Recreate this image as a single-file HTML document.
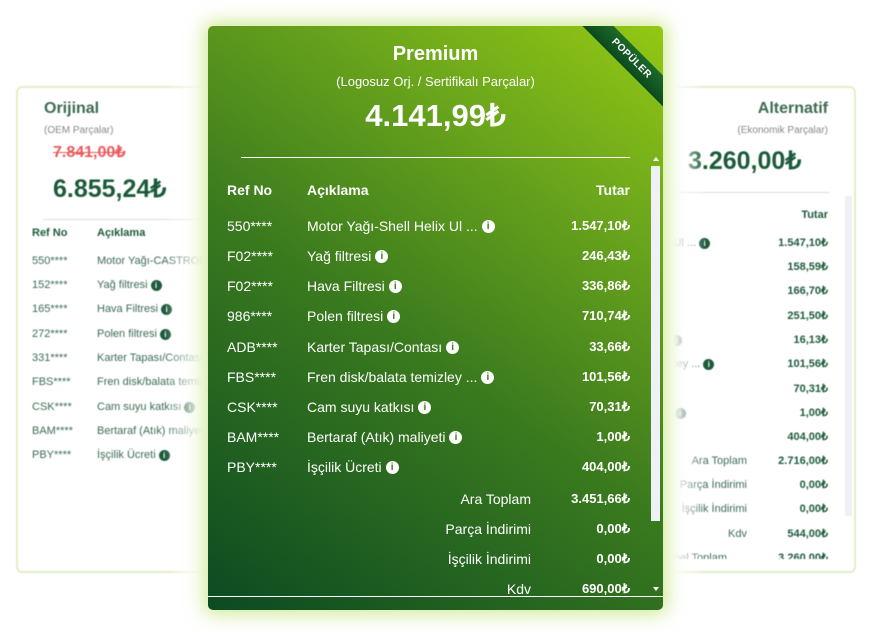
<!DOCTYPE html>
<html><head><meta charset="utf-8"><style>
*{margin:0;padding:0;box-sizing:border-box}
body{width:872px;height:632px;background:#fff;position:relative;overflow:hidden;font-family:"Liberation Sans",sans-serif}
.a{position:absolute;white-space:nowrap;line-height:20px}
.r{text-align:right}
.side{position:absolute;top:86px;width:228px;height:487px;border:2px solid #e2efc6;border-radius:6px;background:#fff;filter:blur(0.5px)}
.s{font-size:11px;color:#3d6b52}
.sb{font-size:11px;color:#1e5a3c;font-weight:bold}
.i{display:inline-block;width:11px;height:11px;border-radius:50%;background:#1e5a3c;color:#fff;font-size:8px;line-height:11px;text-align:center;font-weight:bold;vertical-align:middle;margin-left:3px}
.ci{display:inline-block;width:13px;height:13px;border-radius:50%;background:#fff;color:#3a7a1e;font-size:10px;line-height:13px;text-align:center;font-weight:bold;vertical-align:middle;margin-left:4px;position:relative;top:-1px}
.c{font-size:14px;color:#fff}
.cb{font-size:13px;color:#fff;font-weight:bold}
</style></head><body>
<div class="side" style="left:16px"></div>
<div class="side" style="left:627px;width:229px"></div>
<div style="position:absolute;left:0;top:0;width:872px;height:632px;filter:blur(0.5px)">
<div class="a" style="left:44px;top:99px;font-size:16px;font-weight:bold;color:#3d6b52">Orijinal</div>
<div class="a s" style="left:44px;top:121px;font-size:10px;color:#888">(OEM Parçalar)</div>
<div class="a" style="left:53px;top:143px;font-size:16px;font-weight:bold;color:#e85a5a;text-decoration:line-through">7.841,00₺</div>
<div class="a" style="left:53px;top:176px;font-size:25px;line-height:26px;font-weight:bold;color:#1a5a38">6.855,24₺</div>
<div style="position:absolute;left:43px;top:219px;width:180px;height:1px;background:#ddd"></div>
<div class="a sb" style="left:32px;top:223px">Ref No</div><div class="a sb" style="left:97px;top:223px">Açıklama</div>
<div class="a s" style="left:32px;top:251px">550****</div><div class="a s" style="left:97px;top:251px">Motor Yağı-CASTROL (</div>
<div class="a s" style="left:32px;top:275px">152****</div><div class="a s" style="left:97px;top:275px">Yağ filtresi<span class="i">i</span></div>
<div class="a s" style="left:32px;top:299px">165****</div><div class="a s" style="left:97px;top:299px">Hava Filtresi<span class="i">i</span></div>
<div class="a s" style="left:32px;top:324px">272****</div><div class="a s" style="left:97px;top:324px">Polen filtresi<span class="i">i</span></div>
<div class="a s" style="left:32px;top:348px">331****</div><div class="a s" style="left:97px;top:348px">Karter Tapası/Contası</div>
<div class="a s" style="left:32px;top:372px">FBS****</div><div class="a s" style="left:97px;top:372px">Fren disk/balata temiz</div>
<div class="a s" style="left:32px;top:397px">CSK****</div><div class="a s" style="left:97px;top:397px">Cam suyu katkısı<span class="i">i</span></div>
<div class="a s" style="left:32px;top:421px">BAM****</div><div class="a s" style="left:97px;top:421px">Bertaraf (Atık) maliyet</div>
<div class="a s" style="left:32px;top:445px">PBY****</div><div class="a s" style="left:97px;top:445px">İşçilik Ücreti<span class="i">i</span></div>

<div class="a r" style="right:44px;top:99px;font-size:16px;font-weight:bold;color:#3d6b52">Alternatif</div>
<div class="a r" style="right:44px;top:121px;font-size:10px;color:#888">(Ekonomik Parçalar)</div>
<div class="a" style="left:688px;top:148px;font-size:25px;line-height:26px;font-weight:bold;color:#1a5a38">3.260,00₺</div>
<div style="position:absolute;left:650px;top:192px;width:180px;height:1px;background:#ddd"></div>
<div style="position:absolute;left:845px;top:196px;width:7px;height:320px;background:#eef0f3"></div>
<div class="a sb r" style="right:44px;top:205px">Tutar</div>
<div class="a s" style="left:660px;top:233px">lix Ul ...<span class="i">i</span></div>
<div class="a s" style="left:660px;top:330px">si<span class="i">i</span></div>
<div class="a s" style="left:660px;top:354px">nizley ...<span class="i">i</span></div>
<div class="a s" style="left:660px;top:403px">eti<span class="i">i</span></div>
<div class="a sb r" style="right:44px;top:233px">1.547,10₺</div>
<div class="a sb r" style="right:44px;top:257px">158,59₺</div>
<div class="a sb r" style="right:44px;top:281px">166,70₺</div>
<div class="a sb r" style="right:44px;top:306px">251,50₺</div>
<div class="a sb r" style="right:44px;top:330px">16,13₺</div>
<div class="a sb r" style="right:44px;top:354px">101,56₺</div>
<div class="a sb r" style="right:44px;top:379px">70,31₺</div>
<div class="a sb r" style="right:44px;top:403px">1,00₺</div>
<div class="a sb r" style="right:44px;top:427px">404,00₺</div>
<div class="a s r" style="right:125px;top:451px">Ara Toplam</div><div class="a sb r" style="right:44px;top:451px">2.716,00₺</div>
<div class="a s r" style="right:125px;top:475px">Parça İndirimi</div><div class="a sb r" style="right:44px;top:475px">0,00₺</div>
<div class="a s r" style="right:125px;top:499px">İşçilik İndirimi</div><div class="a sb r" style="right:44px;top:499px">0,00₺</div>
<div class="a s r" style="right:125px;top:524px">Kdv</div><div class="a sb r" style="right:44px;top:524px">544,00₺</div>
<div style="position:absolute;left:640px;top:548px;width:200px;height:11px;overflow:hidden"><div class="a s r" style="right:113px;top:0">Genel Toplam</div><div class="a sb r" style="right:12px;top:0">3.260,00₺</div></div>
</div>
<div style="position:absolute;left:165px;top:80px;width:45px;height:500px;background:linear-gradient(90deg,rgba(255,255,255,0),#fff 85%)"></div>
<div style="position:absolute;left:660px;top:80px;width:45px;height:500px;background:linear-gradient(270deg,rgba(255,255,255,0),#fff 70%)"></div>

<div style="position:absolute;left:208px;top:26px;width:455px;height:584px;border-radius:5px;background:linear-gradient(215deg,#93c814 0%,#6aa51c 25%,#3a7a1e 55%,#0c4a22 100%);box-shadow:0 0 18px 4px rgba(170,215,60,0.55);overflow:hidden">
<div class="a" style="left:0;width:455px;text-align:center;top:16px;font-size:20px;line-height:24px;font-weight:bold;color:#fff">Premium</div>
<div class="a" style="left:0;width:455px;text-align:center;top:46px;font-size:13px;color:#fff">(Logosuz Orj. / Sertifikalı Parçalar)</div>
<div class="a" style="left:0;width:455px;text-align:center;top:72px;font-size:31px;line-height:36px;font-weight:bold;color:#fff">4.141,99₺</div>
<div style="position:absolute;left:33px;top:131px;width:389px;height:1px;background:#fff"></div>
<div style="position:absolute;left:443px;top:140px;width:9px;height:355px;background:#eef1f5"></div>
<div style="position:absolute;left:445px;top:131px;width:0;height:0;border-left:3px solid transparent;border-right:3px solid transparent;border-bottom:4px solid #fff"></div>
<div style="position:absolute;left:445px;top:561px;width:0;height:0;border-left:3px solid transparent;border-right:3px solid transparent;border-top:4px solid #fff"></div>
<div class="a" style="left:19px;top:154px;font-size:14px;font-weight:bold;color:#fff">Ref No</div>
<div class="a" style="left:99px;top:154px;font-size:14px;font-weight:bold;color:#fff">Açıklama</div>
<div class="a r" style="right:33px;top:154px;font-size:14px;font-weight:bold;color:#fff">Tutar</div>
<div class="a c" style="left:19px;top:190px">550****</div><div class="a c" style="left:99px;top:190px">Motor Yağı-Shell Helix Ul ...<span class="ci">i</span></div><div class="a cb r" style="right:33px;top:190px">1.547,10₺</div>
<div class="a c" style="left:19px;top:220px">F02****</div><div class="a c" style="left:99px;top:220px">Yağ filtresi<span class="ci">i</span></div><div class="a cb r" style="right:33px;top:220px">246,43₺</div>
<div class="a c" style="left:19px;top:250px">F02****</div><div class="a c" style="left:99px;top:250px">Hava Filtresi<span class="ci">i</span></div><div class="a cb r" style="right:33px;top:250px">336,86₺</div>
<div class="a c" style="left:19px;top:280px">986****</div><div class="a c" style="left:99px;top:280px">Polen filtresi<span class="ci">i</span></div><div class="a cb r" style="right:33px;top:280px">710,74₺</div>
<div class="a c" style="left:19px;top:311px">ADB****</div><div class="a c" style="left:99px;top:311px">Karter Tapası/Contası<span class="ci">i</span></div><div class="a cb r" style="right:33px;top:311px">33,66₺</div>
<div class="a c" style="left:19px;top:341px">FBS****</div><div class="a c" style="left:99px;top:341px">Fren disk/balata temizley ...<span class="ci">i</span></div><div class="a cb r" style="right:33px;top:341px">101,56₺</div>
<div class="a c" style="left:19px;top:371px">CSK****</div><div class="a c" style="left:99px;top:371px">Cam suyu katkısı<span class="ci">i</span></div><div class="a cb r" style="right:33px;top:371px">70,31₺</div>
<div class="a c" style="left:19px;top:401px">BAM****</div><div class="a c" style="left:99px;top:401px">Bertaraf (Atık) maliyeti<span class="ci">i</span></div><div class="a cb r" style="right:33px;top:401px">1,00₺</div>
<div class="a c" style="left:19px;top:431px">PBY****</div><div class="a c" style="left:99px;top:431px">İşçilik Ücreti<span class="ci">i</span></div><div class="a cb r" style="right:33px;top:431px">404,00₺</div>
<div class="a c r" style="right:132px;top:463px">Ara Toplam</div><div class="a cb r" style="right:33px;top:463px">3.451,66₺</div>
<div class="a c r" style="right:132px;top:493px">Parça İndirimi</div><div class="a cb r" style="right:33px;top:493px">0,00₺</div>
<div class="a c r" style="right:132px;top:523px">İşçilik İndirimi</div><div class="a cb r" style="right:33px;top:523px">0,00₺</div>
<div style="position:absolute;left:0;top:553px;width:455px;height:17px;overflow:hidden"><div class="a c r" style="right:132px;top:0">Kdv</div><div class="a cb r" style="right:33px;top:0">690,00₺</div></div>
<div style="position:absolute;left:0;top:570px;width:455px;height:1px;background:#fff"></div>
<div style="position:absolute;left:358px;top:22px;width:130px;height:22px;transform:rotate(45deg);background:linear-gradient(180deg,#1d6a2a,#0c4a1e);color:#fff;font-size:10px;font-weight:bold;text-align:center;line-height:22px;letter-spacing:0.5px">POPÜLER</div>
</div>
</body></html>
